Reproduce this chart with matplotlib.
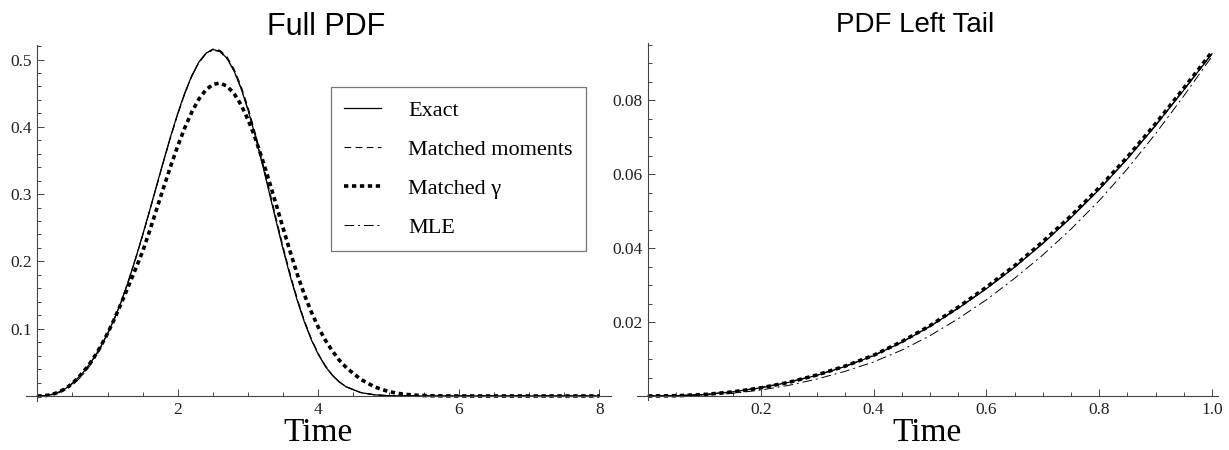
import matplotlib
matplotlib.use('Agg')
import matplotlib.pyplot as plt
from matplotlib.ticker import MultipleLocator, FuncFormatter

# time grid (fine over the left tail, coarser where the curves are flat)
time = [0.0, 0.05, 0.1, 0.15, 0.2, 0.25, 0.3, 0.35, 0.4, 0.45, 0.5,
        0.55, 0.6, 0.65, 0.7, 0.75, 0.8, 0.85, 0.9, 0.95, 1.0,
        1.1, 1.2, 1.3, 1.4, 1.5, 1.6, 1.7, 1.8, 1.9, 2.0,
        2.1, 2.2, 2.3, 2.4, 2.5, 2.6, 2.7, 2.8, 2.9, 3.0,
        3.1, 3.2, 3.3, 3.4, 3.5, 3.6, 3.7, 3.8, 3.9, 4.0,
        4.1, 4.2, 4.3, 4.4,
        4.6, 4.8, 5.0, 5.2, 5.4, 5.6, 5.8, 6.0, 7.0, 8.0]

exact = [0, 0.00008, 0.0004, 0.0011, 0.0022, 0.0037, 0.0056, 0.0080, 0.0109, 0.0145, 0.0188,
         0.0237, 0.0290, 0.0348, 0.0412, 0.0482, 0.0558, 0.0641, 0.0731, 0.0827, 0.0925,
         0.1155, 0.1414, 0.1717, 0.2046, 0.2396, 0.2761, 0.3134, 0.3506, 0.3867, 0.4203,
         0.4506, 0.4763, 0.4962, 0.5093, 0.5148, 0.5123, 0.5017, 0.4831, 0.4572, 0.4247,
         0.3873, 0.3460, 0.3030, 0.2595, 0.2174, 0.1779, 0.1420, 0.1105, 0.0836, 0.0617,
         0.0441, 0.0306, 0.0206, 0.0134,
         0.0051, 0.0017, 0.0005, 0.0001, 0, 0, 0, 0, 0, 0]

moments = [0, 0.00009, 0.00042, 0.00115, 0.0023, 0.0038, 0.0057, 0.0081, 0.0110, 0.0146, 0.0189,
           0.0238, 0.0291, 0.0349, 0.0413, 0.0483, 0.0559, 0.0642, 0.0732, 0.0828, 0.0926,
           0.1156, 0.1413, 0.1712, 0.2038, 0.2385, 0.2748, 0.3120, 0.3492, 0.3853, 0.4190,
           0.4495, 0.4755, 0.4958, 0.5094, 0.5155, 0.5137, 0.5040, 0.4861, 0.4608, 0.4289,
           0.3918, 0.3506, 0.3075, 0.2637, 0.2212, 0.1812, 0.1447, 0.1126, 0.0852, 0.0628,
           0.0449, 0.0312, 0.0210, 0.0137,
           0.0053, 0.0018, 0.0005, 0.0001, 0, 0, 0, 0, 0, 0]

matched_gamma = [0, 0.00008, 0.0004, 0.0011, 0.0022, 0.0037, 0.0057, 0.0081, 0.0110, 0.0147, 0.0190,
                 0.0240, 0.0294, 0.0352, 0.0417, 0.0487, 0.0563, 0.0646, 0.0736, 0.0832, 0.0930,
                 0.1150, 0.1390, 0.1640, 0.1890, 0.2150, 0.2455, 0.2780, 0.3105, 0.3420, 0.3717,
                 0.3987, 0.4221, 0.4411, 0.4549, 0.4630, 0.4650, 0.4604, 0.4496, 0.4328, 0.4106,
                 0.3837, 0.3528, 0.3195, 0.2845, 0.2490, 0.2143, 0.1810, 0.1510, 0.1250, 0.1020,
                 0.0830, 0.0670, 0.0530, 0.0420,
                 0.0250, 0.0135, 0.0065, 0.0028, 0.0011, 0.0004, 0.0001, 0, 0, 0]

mle = [0, 0.00004, 0.00025, 0.0007, 0.0016, 0.0029, 0.0046, 0.0067, 0.0092, 0.0124, 0.0163,
       0.0209, 0.0260, 0.0318, 0.0381, 0.0451, 0.0528, 0.0614, 0.0709, 0.0811, 0.0918,
       0.1160, 0.1425, 0.1725, 0.2050, 0.2395, 0.2756, 0.3126, 0.3495, 0.3854, 0.4190,
       0.4492, 0.4750, 0.4950, 0.5082, 0.5138, 0.5115, 0.5012, 0.4830, 0.4574, 0.4252,
       0.3880, 0.3470, 0.3042, 0.2608, 0.2187, 0.1791, 0.1431, 0.1114, 0.0843, 0.0622,
       0.0445, 0.0309, 0.0208, 0.0135,
       0.0052, 0.0017, 0.0005, 0.0001, 0, 0, 0, 0, 0, 0]

labels = ["Exact", "Matched moments", "Matched \u03b3", "MLE"]

plt.rcParams['font.family'] = ['Liberation Serif', 'DejaVu Serif']

W, H = 1229, 450
fig = plt.figure(figsize=(W / 100, H / 100), dpi=100)
ax1 = fig.add_axes([26.06 / W, (H - 400.7) / H, 584.5 / W, 356.0 / H])
ax2 = fig.add_axes([636.7 / W, (H - 399.7) / H, 580.9 / W, 357.0 / H])


def draw(ax, n):
    t = time[:n]
    ax.plot(t, exact[:n], color='black', lw=0.9, label=labels[0])
    ax.plot(t, moments[:n], color='black', lw=0.8, dashes=(6, 4), label=labels[1])
    ax.plot(t, matched_gamma[:n], color='black', lw=2.6, dashes=(1.2, 1.0),
            dash_capstyle='butt', label=labels[2])
    ax.plot(t, mle[:n], color='black', lw=0.7, dashes=(10, 4, 2, 4), label=labels[3])


def style(ax, xmaj, xmin, ymaj, ymin, xfmt, yfmt):
    for s in ['top', 'right']:
        ax.spines[s].set_visible(False)
    for s in ['left', 'bottom']:
        ax.spines[s].set_position(('data', 0))
        ax.spines[s].set_color('#444444')
        ax.spines[s].set_linewidth(0.8)
    ax.xaxis.set_major_locator(MultipleLocator(xmaj))
    ax.xaxis.set_minor_locator(MultipleLocator(xmin))
    ax.yaxis.set_major_locator(MultipleLocator(ymaj))
    ax.yaxis.set_minor_locator(MultipleLocator(ymin))
    ax.xaxis.set_major_formatter(FuncFormatter(lambda v, p: '' if abs(v) < 1e-9 else xfmt % v))
    ax.yaxis.set_major_formatter(FuncFormatter(lambda v, p: '' if abs(v) < 1e-9 else yfmt % v))
    ax.tick_params(which='both', direction='in', colors='#444444', labelcolor='#222222',
                   labelsize=12.5, width=0.7)
    ax.tick_params(which='major', length=5, pad=4)
    ax.tick_params(which='minor', length=3)
    ax.set_xlabel('Time', fontsize=24, labelpad=0)


draw(ax1, len(time))
ax1.set_xlim(-0.16, 8.16)
ax1.set_ylim(-0.007, 0.522)
style(ax1, 2, 0.5, 0.1, 0.02, '%d', '%.1f')
ax1.set_title('Full PDF', fontfamily='Liberation Sans', fontsize=22, pad=7, x=0.514)

draw(ax2, 21)
ax2.set_xlim(-0.02, 1.01)
ax2.set_ylim(-0.001, 0.0955)
style(ax2, 0.2, 0.05, 0.02, 0.005, '%.1f', '%.2f')
ax2.set_title('PDF Left Tail', fontfamily='Liberation Sans', fontsize=20, pad=8, x=0.479)

leg = ax1.legend(loc='upper left', bbox_to_anchor=(331 / W, 1 - 87 / H),
                 bbox_transform=fig.transFigure, frameon=True, fancybox=False,
                 edgecolor='#555555', fontsize=16, handlelength=1.67, handletextpad=1.2,
                 labelspacing=0.83, borderpad=0.6, borderaxespad=0)
leg.get_frame().set_linewidth(0.9)

fig.savefig('out.png', dpi=100)
